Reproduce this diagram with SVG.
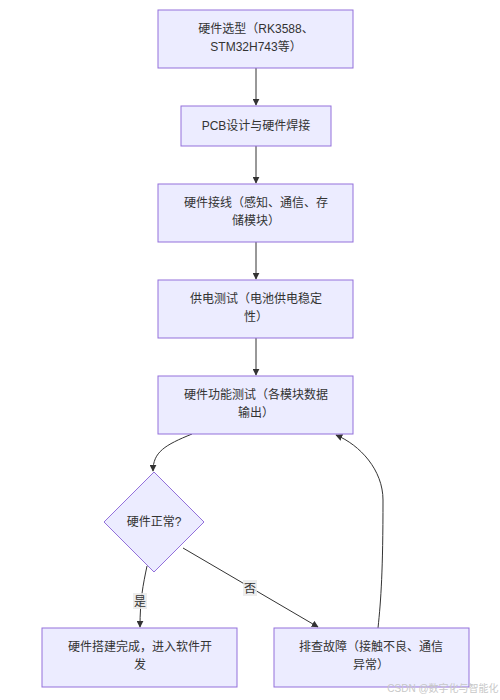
<svg xmlns="http://www.w3.org/2000/svg" width="500" height="700" viewBox="0 0 500 700">
<defs>
<marker id="arr" viewBox="0 0 10 10" refX="9" refY="5" markerWidth="7" markerHeight="7" orient="auto-start-reverse" markerUnits="userSpaceOnUse"><path d="M0,0 L10,5 L0,10 z" fill="#333"/></marker>
<style>
.n{fill:#ECECFF;stroke:#9370DB;stroke-width:1}
.t{font-family:"Liberation Sans","Noto Sans CJK SC",sans-serif;font-size:12px;fill:#333;text-anchor:middle}
.e{fill:none;stroke:#333;stroke-width:1}
.lb{fill:#e8e8e8;opacity:0.8}
</style>
</defs>
<rect width="500" height="700" fill="#fff"/>
<g id="connectors">
<path class="e" d="M256,68 V105" marker-end="url(#arr)"/>
<path class="e" d="M256,146 V183" marker-end="url(#arr)"/>
<path class="e" d="M256,242 V279" marker-end="url(#arr)"/>
<path class="e" d="M256,338 V375" marker-end="url(#arr)"/>
<path class="e" d="M192,434 C165,445 153,452 153,471" marker-end="url(#arr)"/>
<path class="e" d="M147,566 C143,585 140,600 140,627" marker-end="url(#arr)"/>
<path class="e" d="M183,548 L318,627" marker-end="url(#arr)"/>
<path class="e" d="M378,628 C381,600 383,570 383,500 C383,470 360,445 336,435" marker-end="url(#arr)"/>
<rect class="lb" x="133" y="593" width="14" height="16"/>
<text class="t" x="140" y="606">是</text>
<rect class="lb" x="243" y="580" width="14" height="16"/>
<text class="t" x="250" y="593">否</text>
</g>
<g id="A"><rect class="n" x="158" y="10" width="195" height="58"/><text class="t" x="256" y="33">硬件选型（RK3588、</text><text class="t" x="256" y="51">STM32H743等）</text></g>
<g id="B"><rect class="n" x="181" y="106" width="150" height="40"/><text class="t" x="256" y="130">PCB设计与硬件焊接</text></g>
<g id="C"><rect class="n" x="158" y="184" width="195" height="58"/><text class="t" x="256" y="207">硬件接线（感知、通信、存</text><text class="t" x="256" y="225">储模块）</text></g>
<g id="D"><rect class="n" x="158" y="280" width="195" height="58"/><text class="t" x="256" y="303">供电测试（电池供电稳定</text><text class="t" x="256" y="321">性）</text></g>
<g id="E"><rect class="n" x="158" y="376" width="195" height="58"/><text class="t" x="256" y="399">硬件功能测试（各模块数据</text><text class="t" x="256" y="417">输出）</text></g>
<g id="F"><polygon class="n" points="154,472 204,522 154,572 104,522"/><text class="t" x="154" y="526">硬件正常?</text></g>
<g id="G"><rect class="n" x="42" y="628" width="195" height="59"/><text class="t" x="140" y="651">硬件搭建完成，进入软件开</text><text class="t" x="140" y="669">发</text></g>
<g id="H"><rect class="n" x="274" y="628" width="195" height="59"/><text class="t" x="371" y="651">排查故障（接触不良、通信</text><text class="t" x="371" y="669">异常）</text></g>
<text x="443" y="692" style="font-family:'Liberation Sans','Noto Sans CJK SC',sans-serif;font-size:10px;fill:#c8c8c8;text-anchor:middle">CSDN @数字化与智能化</text>
</svg>
